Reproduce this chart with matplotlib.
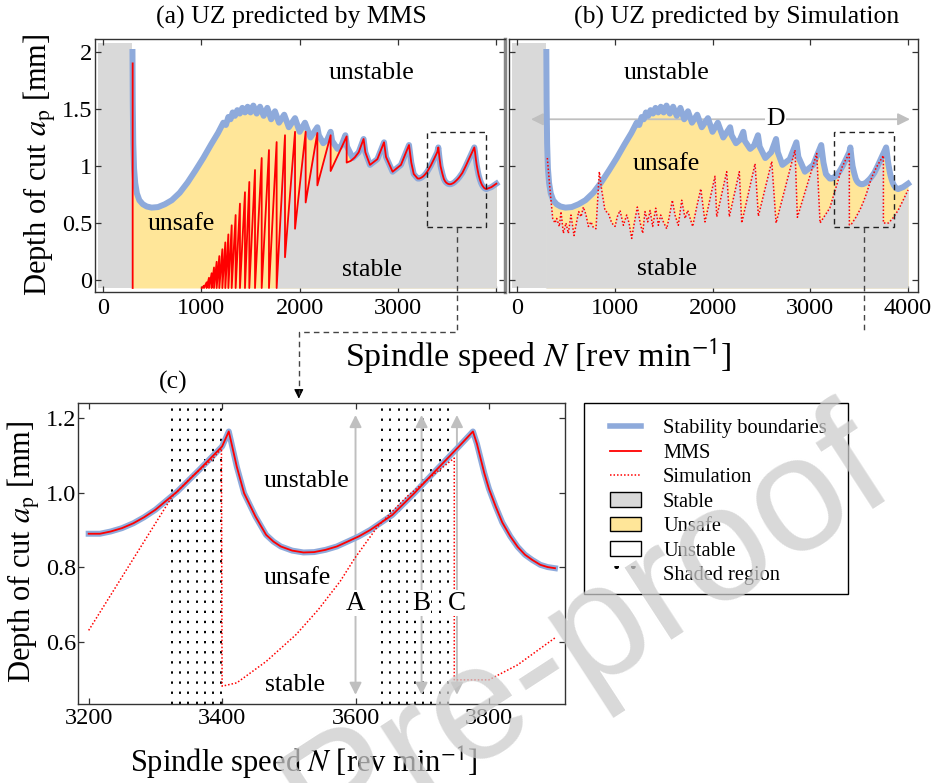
import numpy as np
import matplotlib
matplotlib.use('Agg')
import matplotlib.pyplot as plt
from matplotlib.patches import Rectangle, Patch, FancyArrowPatch
from matplotlib.lines import Line2D

plt.rcParams['font.family'] = ['Liberation Serif', 'DejaVu Serif']
plt.rcParams['mathtext.fontset'] = 'stix'

# ---------------- data ----------------
# stability boundary (lobes)
blue_N = [300, 303, 308, 316, 328, 345, 370, 405, 445, 495, 560, 630, 700, 780, 860, 940,
          1020, 1100, 1170, 1224, 1250, 1275, 1297, 1319, 1342, 1366, 1391, 1417, 1444,
          1471, 1500, 1529, 1563, 1597, 1634, 1671, 1710, 1749, 1790, 1843, 1890, 1953,
          2000, 2054, 2110, 2180, 2195, 2240, 2280, 2315, 2330, 2385, 2425, 2465, 2482,
          2540, 2600, 2650, 2668, 2715, 2790, 2858, 2878, 2945, 3030, 3112, 3135, 3160,
          3200, 3217, 3233, 3250, 3267, 3283, 3300, 3333, 3366, 3400, 3410, 3413, 3422,
          3433, 3450, 3466, 3477, 3488, 3505, 3522, 3538, 3555, 3572, 3588, 3605, 3622,
          3655, 3688, 3721, 3755, 3776, 3782, 3793, 3800, 3810, 3820, 3832, 3843, 3854,
          3865, 3877, 3888, 3899, 3950, 4000]
blue_ap = [2.00, 1.55, 1.20, 0.98, 0.85, 0.76, 0.70, 0.665, 0.645, 0.635, 0.64, 0.665, 0.70,
           0.765, 0.855, 0.96, 1.07, 1.19, 1.29, 1.38, 1.36, 1.43, 1.41, 1.47, 1.44, 1.49,
           1.46, 1.51, 1.47, 1.52, 1.47, 1.53, 1.46, 1.52, 1.44, 1.51, 1.41, 1.48, 1.38,
           1.45, 1.34, 1.42, 1.30, 1.38, 1.25, 1.34, 1.27, 1.20, 1.23, 1.30, 1.22, 1.15,
           1.18, 1.27, 1.17, 1.07, 1.12, 1.237, 1.12, 1.01, 1.06, 1.208, 1.08, 0.95, 1.01,
           1.184, 1.03, 0.93,
           0.890, 0.890, 0.896, 0.905, 0.918, 0.934, 0.954, 1.003, 1.061, 1.123, 1.163, 1.14,
           1.069, 0.998, 0.936, 0.887, 0.869, 0.856, 0.845, 0.840, 0.841, 0.847, 0.856,
           0.869, 0.883, 0.900, 0.940, 0.998, 1.060, 1.123, 1.163, 1.130, 1.052, 1.010,
           0.963, 0.920, 0.883, 0.855, 0.834, 0.820, 0.807, 0.801, 0.798, 0.815, 0.845]

# MMS prediction: first vertical line, then sawtooth teeth, then joins the boundary
mms_first_N = 302
mms_first_top = 1.90
teeth_start_N = 1005
teeth_N = [1027, 1054, 1078, 1105, 1129, 1156, 1183, 1214, 1244, 1275, 1309, 1349, 1393,
           1444, 1488, 1546, 1614, 1688, 1766, 1851, 1953, 2061, 2180, 2315, 2478]
teeth_top = [-0.05, -0.02, 0.02, 0.06, 0.11, 0.16, 0.21, 0.27, 0.33, 0.40, 0.48, 0.57, 0.67,
             0.77, 0.86, 0.965, 1.07, 1.14, 1.21, 1.27, 1.30, 1.30, 1.29, 1.27, 1.26]
teeth_bottom = [-0.07, -0.07, -0.07, -0.07, -0.07, -0.07, -0.07, -0.07, -0.07, -0.07, -0.07,
                -0.07, -0.07, -0.07, -0.07, -0.07, -0.07, -0.07, -0.07, 0.20, 0.45, 0.68,
                0.83, 0.956, 1.03]
mms_join_N = [2520, 2560]
mms_join_ap = [1.045, 1.075]
mms_follow_from = 2600   # MMS coincides with the boundary from here

# time-domain simulation prediction
sim_N = [310, 338, 365, 389, 406, 433, 450, 474, 501, 525, 552, 583, 610, 631, 655, 679, 706,
         730, 757, 781, 808, 842, 866, 900, 934, 969, 1003, 1026, 1054, 1088, 1122, 1146,
         1173, 1200, 1231, 1258, 1286, 1309, 1337, 1361, 1388, 1419, 1446, 1470, 1497, 1531,
         1558, 1589, 1616, 1650, 1685, 1719, 1746, 1797, 1838, 1880, 1923, 2025, 2043, 2145,
         2172, 2274, 2299, 2435, 2469, 2606, 2650, 2844, 2868, 3066, 3100, 3200, 3325, 3355,
         3386, 3399, 3400, 3422, 3466, 3511, 3544, 3577, 3599, 3633, 3677, 3710, 3748, 3748,
         3800, 3843, 3899, 3950, 4000]
sim_ap = [1.07, 0.79, 0.54, 0.50, 0.54, 0.47, 0.60, 0.41, 0.50, 0.41, 0.57, 0.39, 0.51, 0.60,
          0.555, 0.64, 0.57, 0.47, 0.51, 0.46, 0.45, 0.95, 0.79, 0.61, 0.585, 0.50, 0.47, 0.555,
          0.61, 0.48, 0.57, 0.50, 0.365, 0.50, 0.64, 0.51, 0.41, 0.60, 0.51, 0.61, 0.47, 0.63,
          0.48, 0.57, 0.51, 0.45, 0.555, 0.70, 0.57, 0.48, 0.70, 0.54, 0.61, 0.47, 0.64, 0.80,
          0.51, 0.91, 0.555, 0.95, 0.555, 0.95, 0.50, 1.02, 0.56, 1.04, 0.50, 1.14, 0.55, 1.11,
          0.50, 0.632, 0.989, 1.043, 1.090, 1.118, 0.483, 0.492, 0.549, 0.621, 0.687, 0.763,
          0.825, 0.909, 0.989, 1.038, 1.092, 0.500, 0.500, 0.540, 0.612, 0.700, 0.790]

# regions / annotations
stable_low_N = [-50, 300]       # always-stable low speed band
fill_bottom, fill_top = -0.07, 2.08
N_max = 4000
zoom_range = [3200, 3900]       # range shown in panel (c)
zoom_box_a = [3295, 3895]
zoom_box_b = [3246, 3853]
zoom_box_ap = [0.463, 1.30]
shaded_regions = [[3325, 3400], [3640, 3738]]
shade_step = 12.3
abc_N = [3600, 3699, 3752]
abc_labels = ['A', 'B', 'C']
abc_range = [0.46, 1.207]
abc_text_ap = 0.705
D_range = [143, 4020]
D_ap = 1.41
D_text_N = 2640

BLUE = '#8eaadb'
YELLOW = '#ffe699'
GRAY = '#d9d9d9'
RED = '#ff0000'
ARROW_GRAY = '#bfbfbf'

# ---- build MMS polyline ----
mms_N = [mms_first_N, mms_first_N, np.nan, teeth_start_N]
mms_ap = [mms_first_top, fill_bottom, np.nan, fill_bottom]
for n, t, b in zip(teeth_N, teeth_top, teeth_bottom):
    mms_N += [n, n]
    mms_ap += [t, b]
mms_N += mms_join_N
mms_ap += mms_join_ap
for n, a in zip(blue_N, blue_ap):
    if n >= mms_follow_from:
        mms_N.append(n)
        mms_ap.append(a)
mms_N = np.array(mms_N, float)
mms_ap = np.array(mms_ap, float)

bN = np.array(blue_N, float)
bA = np.array(blue_ap, float)
sN = np.array(sim_N, float)
sA = np.array(sim_ap, float)

# ---------------- figure ----------------
W, H = 932, 783
fig = plt.figure(figsize=(W / 100, H / 100), dpi=100)


def ax_px(l, t, r, b):
    return fig.add_axes([l / W, 1 - b / H, (r - l) / W, (b - t) / H])


ax_a = ax_px(95, 39, 505, 292)
ax_b = ax_px(509, 39, 918, 292)
ax_c = ax_px(78, 403, 565, 704)

TXT = 18.5
TICK = 17.5

for ax in (ax_a, ax_b, ax_c):
    ax.tick_params(direction='in', length=4.5, width=0.9, top=True, right=True,
                   labelsize=TICK, color='#333333')
    for s in ax.spines.values():
        s.set_color('#333333')
        s.set_linewidth(1.0)

# ---- panel (a) ----
ax = ax_a
ax.fill_between(stable_low_N, fill_bottom, fill_top, color=GRAY, lw=0, zorder=1)
ax.fill_between(bN, fill_bottom, bA, color=YELLOW, lw=0, zorder=1)
i0 = np.where((mms_N == teeth_N[-7]) & (mms_ap == fill_bottom))[0][0]
gN = np.concatenate([mms_N[i0:], [N_max]])
gA = np.concatenate([mms_ap[i0:], [fill_bottom]])
ax.fill(gN, gA, fc=GRAY, ec=GRAY, lw=0.8, zorder=2)
ax.plot(bN, bA, color=BLUE, lw=4.3, zorder=3, solid_joinstyle='round')
ax.plot(mms_N, mms_ap, color=RED, lw=1.3, zorder=4)
ax.add_patch(Rectangle((zoom_box_a[0], zoom_box_ap[0]), zoom_box_a[1] - zoom_box_a[0],
                       zoom_box_ap[1] - zoom_box_ap[0], fill=False, ls=(0, (4, 3)),
                       lw=1.0, ec='#222222', zorder=5))
ax.text(2732, 1.82, 'unstable', fontsize=TXT, ha='center', va='center', zorder=6)
ax.text(800, 0.49, 'unsafe', fontsize=TXT, ha='center', va='center', zorder=6)
ax.text(2732, 0.09, 'stable', fontsize=TXT, ha='center', va='center', zorder=6)
ax.set_xlim(-81, 4088)
ax.set_ylim(-0.105, 2.114)
ax.set_xticks([0, 1000, 2000, 3000, 4000])
ax.set_xticklabels(['0', '1000', '2000', '3000', ''])
ax.set_yticks([0, 0.5, 1, 1.5, 2])
ax.set_yticklabels(['0', '0.5', '1', '1.5', '2'])
ax.tick_params(axis='x', pad=4)
ax.tick_params(axis='y', pad=2)
ax.spines['right'].set_color('#888888')
ax.spines['right'].set_linewidth(2.5)

# ---- panel (b) ----
ax = ax_b
ax.fill_between(stable_low_N, fill_bottom, fill_top, color=GRAY, lw=0, zorder=1)
ax.fill_between(bN, fill_bottom, bA, color=YELLOW, lw=0, zorder=1)
ax.fill(np.concatenate([[stable_low_N[1], stable_low_N[1]], sN, [N_max]]),
        np.concatenate([[fill_bottom, sA[0]], sA, [fill_bottom]]),
        fc=GRAY, ec=GRAY, lw=0.8, zorder=2)
ax.annotate('', xy=(D_range[1], D_ap), xytext=(D_range[0], D_ap),
            arrowprops=dict(arrowstyle='<|-|>', color=ARROW_GRAY, lw=1.3,
                            mutation_scale=18, shrinkA=0, shrinkB=0), zorder=2.5)
ax.plot(bN, bA, color=BLUE, lw=4.3, zorder=3, solid_joinstyle='round')
ax.plot(sN, sA, color=RED, lw=1.1, ls=(0, (1, 1.3)), zorder=4)
ax.add_patch(Rectangle((zoom_box_b[0], zoom_box_ap[0]), zoom_box_b[1] - zoom_box_b[0],
                       zoom_box_ap[1] - zoom_box_ap[0], fill=False, ls=(0, (4, 3)),
                       lw=1.0, ec='#222222', zorder=5))
ax.text(D_text_N, D_ap, 'D', fontsize=TXT, ha='center', va='center', zorder=6,
        bbox=dict(fc='white', ec='none', pad=1))
ax.text(1531, 1.82, 'unstable', fontsize=TXT, ha='center', va='center', zorder=6)
ax.text(1531, 1.02, 'unsafe', fontsize=TXT, ha='center', va='center', zorder=6)
ax.text(1531, 0.094, 'stable', fontsize=TXT, ha='center', va='center', zorder=6)
ax.set_xlim(-82, 4102)
ax.set_ylim(-0.105, 2.114)
ax.set_xticks([0, 1000, 2000, 3000, 4000])
ax.set_yticks([0, 0.5, 1, 1.5, 2])
ax.tick_params(axis='y', labelleft=False)
ax.tick_params(axis='x', pad=4)

# ---- panel (c) ----
ax = ax_c
for lo, hi in shaded_regions:
    xs = np.arange(lo, hi + 1, shade_step)
    ax.vlines(xs, 0, 1, transform=ax.get_xaxis_transform(), colors='black',
              lw=1.4, linestyles=[(0, (1.2, 4.0))], zorder=1)
for n, lab in zip(abc_N, abc_labels):
    ax.annotate('', xy=(n, abc_range[1]), xytext=(n, abc_range[0]),
                arrowprops=dict(arrowstyle='<|-|>', color=ARROW_GRAY, lw=1.4,
                                mutation_scale=18, shrinkA=0, shrinkB=0), zorder=2)
    ax.text(n, abc_text_ap, lab, fontsize=TXT + 1, ha='center', va='center', zorder=6,
            bbox=dict(fc='white', ec='none', pad=0.5))
mb = (bN >= zoom_range[0]) & (bN <= zoom_range[1])
mm = (mms_N >= zoom_range[0]) & (mms_N <= zoom_range[1])
ms = (sN >= zoom_range[0]) & (sN <= zoom_range[1])
ax.plot(bN[mb], bA[mb], color=BLUE, lw=4.3, zorder=3, solid_joinstyle='round')
ax.plot(mms_N[mm], mms_ap[mm], color=RED, lw=1.3, zorder=4)
ax.plot(sN[ms], sA[ms], color=RED, lw=1.1, ls=(0, (1, 1.3)), zorder=4)
ax.text(3527, 1.032, 'unstable', fontsize=TXT, ha='center', va='center', zorder=6)
ax.text(3513, 0.772, 'unsafe', fontsize=TXT, ha='center', va='center', zorder=6)
ax.text(3510, 0.487, 'stable', fontsize=TXT, ha='center', va='center', zorder=6)
ax.set_xlim(3184, 3914)
ax.set_ylim(0.4355, 1.239)
ax.set_xticks([3200, 3400, 3600, 3800])
ax.set_yticks([0.6, 0.8, 1.0, 1.2])
ax.set_yticklabels(['0.6', '0.8', '1.0', '1.2'])
ax.tick_params(axis='x', pad=3)
ax.tick_params(axis='y', pad=1.5)

# ---- labels ----
ylab = r'Depth of cut $a_\mathrm{p}$ [mm]'
xlab = r'Spindle speed $N$ [rev min$^{\mathsf{-1}}$]'
fig.text(40 / W, 1 - 165 / H, ylab, rotation=90, fontsize=22, ha='center', va='center')
fig.text(538 / W, 1 - 356 / H, xlab, fontsize=24.5, ha='center', va='center')
fig.text(24 / W, 1 - 552 / H, ylab, rotation=90, fontsize=22, ha='center', va='center')
fig.text(304 / W, 1 - 763 / H, xlab, fontsize=22, ha='center', va='center')
fig.text(291 / W, 1 - 17 / H, '(a) UZ predicted by MMS', fontsize=TXT, ha='center', va='center')
fig.text(737 / W, 1 - 17 / H, '(b) UZ predicted by Simulation', fontsize=TXT, ha='center', va='center')
fig.text(173 / W, 1 - 382 / H, '(c)', fontsize=TXT, ha='center', va='center')

# ---- connectors ----
fig.canvas.draw()
inv = fig.transFigure.inverted()
route_y = 1 - 332 / H
pa = inv.transform(ax_a.transData.transform((sum(zoom_box_a) / 2, zoom_box_ap[0])))
pb = inv.transform(ax_b.transData.transform((sum(zoom_box_b) / 2, zoom_box_ap[0])))
pc = inv.transform(ax_c.transData.transform((3515, ax_c.get_ylim()[1])))
dash = dict(color='#444444', lw=1.0, ls=(0, (4, 3)), transform=fig.transFigure)
fig.add_artist(Line2D([pa[0], pa[0], pc[0], pc[0]], [pa[1], route_y, route_y, pc[1] + 0.012], **dash))
fig.add_artist(Line2D([pb[0], pb[0]], [pb[1], route_y], **dash))
fig.add_artist(FancyArrowPatch((pc[0], pc[1] + 0.02), (pc[0], pc[1] + 0.002),
                               transform=fig.transFigure, arrowstyle='-|>',
                               mutation_scale=14, color='black', lw=0.8))

# ---- legend ----
handles = [Line2D([], [], color=BLUE, lw=4),
           Line2D([], [], color=RED, lw=1.3),
           Line2D([], [], color=RED, lw=1.1, ls=(0, (1, 1.3))),
           Patch(fc=GRAY, ec='black', lw=1),
           Patch(fc=YELLOW, ec='black', lw=1),
           Patch(fc='white', ec='black', lw=1),
           Patch(fc='white', ec='black', lw=0, hatch='.')]
labels = ['Stability boundaries', 'MMS', 'Simulation', 'Stable', 'Unsafe', 'Unstable',
          'Shaded region']
fig.add_artist(Rectangle((584 / W, 1 - 594 / H), 264 / W, 191 / H, transform=fig.transFigure,
                         fill=False, ec='black', lw=1.0))
leg = fig.legend(handles, labels, loc='upper left', bbox_to_anchor=(610 / W, 1 - 419 / H),
                 fontsize=14.7, frameon=False, borderpad=0, labelspacing=0.255,
                 handlelength=1.52, handletextpad=1.08, borderaxespad=0)

# ---- watermark ----
fig.text(900 / W, 1 - 492 / H, 'Journal Pre-proof', rotation=33, rotation_mode='anchor',
         ha='right', va='baseline', fontsize=118, color='#cccccc', alpha=0.75,
         family='Liberation Sans', zorder=100)

fig.savefig('out.png', dpi=100)
